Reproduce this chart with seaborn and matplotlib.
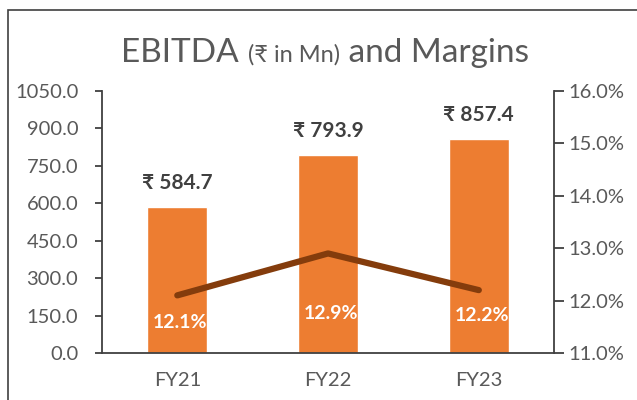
import matplotlib
matplotlib.use("Agg")
import matplotlib.pyplot as plt
import seaborn as sns
from matplotlib.patches import Rectangle

years = ["FY21", "FY22", "FY23"]
ebitda = [584.7, 793.9, 857.4]
margins = [12.1, 12.9, 12.2]
left_ticks = [0, 150, 300, 450, 600, 750, 900, 1050]
right_ticks = [11, 12, 13, 14, 15, 16]
# vertical offset (pixels) of the white margin labels below the line point
margin_label_offsets = [-27, -60, -25]

bar_color = "#ED7D31"
line_color = "#843C0C"
text_gray = "#595959"

sns.set_style("white")
plt.rcParams["font.family"] = ["Lato", "DejaVu Sans"]

fig = plt.figure(figsize=(6.37, 4), dpi=100)
ax = fig.add_axes([0.160, 0.1175, 0.710, 0.655])

sns.barplot(x=years, y=ebitda, ax=ax, color=bar_color, width=0.4, saturation=1)
ax.set_ylim(0, 1050)
ax.set_yticks(left_ticks)
ax.set_yticklabels([f"{v:.1f}" for v in left_ticks])
ax.set_xlim(-0.5, 2.5)

ax2 = ax.twinx()
sns.lineplot(x=list(range(len(years))), y=margins, ax=ax2, color=line_color,
             linewidth=4.5, solid_capstyle="round")
ax2.set_ylim(11, 16)
ax2.set_yticks(right_ticks)
ax2.set_yticklabels([f"{v:.1f}%" for v in right_ticks])

for a in (ax, ax2):
    for s in a.spines.values():
        s.set_color("#404040")
        s.set_linewidth(1.3)
    a.spines["top"].set_visible(False)
    a.tick_params(colors="#404040", labelcolor=text_gray, labelsize=14.5,
                  length=5, width=1.3)
ax.spines["right"].set_visible(False)
ax2.spines["left"].set_visible(False)
ax2.spines["bottom"].set_visible(False)
ax.tick_params(axis="x", pad=9, labelsize=14.5)
ax.tick_params(axis="y", direction="out", pad=12)
ax2.tick_params(axis="y", length=7, pad=3)

for i, v in enumerate(ebitda):
    ax.annotate(f"₹ {v:.1f}", (i, v), xytext=(0, 17), textcoords="offset points",
                ha="center", va="center", fontsize=15, fontweight="bold", color="#404040")

for i, m in enumerate(margins):
    ax2.annotate(f"{m:.1f}%", (i, m), xytext=(2, margin_label_offsets[i] * 0.72),
                 textcoords="offset points", ha="center", va="center",
                 fontsize=14, fontweight="bold", color="white")

# outer chart frame (clipped by the image edges)
fig.patches.append(Rectangle((8 / 637, -0.1), 1.2, 1.1 - 10 / 400,
                             transform=fig.transFigure, fill=False,
                             edgecolor="#404040", linewidth=1.2))

# title with a smaller middle part
parts = [("EBITDA ", 24), ("(₹ in Mn)", 17), (" and Margins", 24)]
renderer = fig.canvas.get_renderer()
objs = []
for s, size in parts:
    t = fig.text(0, 1 - 62 / 400, s, fontsize=size, color=text_gray, va="baseline")
    objs.append(t)
widths = [o.get_window_extent(renderer).width for o in objs]
x = 325 - sum(widths) / 2
for o, w in zip(objs, widths):
    o.set_x(x / 637)
    x += w

fig.savefig("out.png", dpi=100)
